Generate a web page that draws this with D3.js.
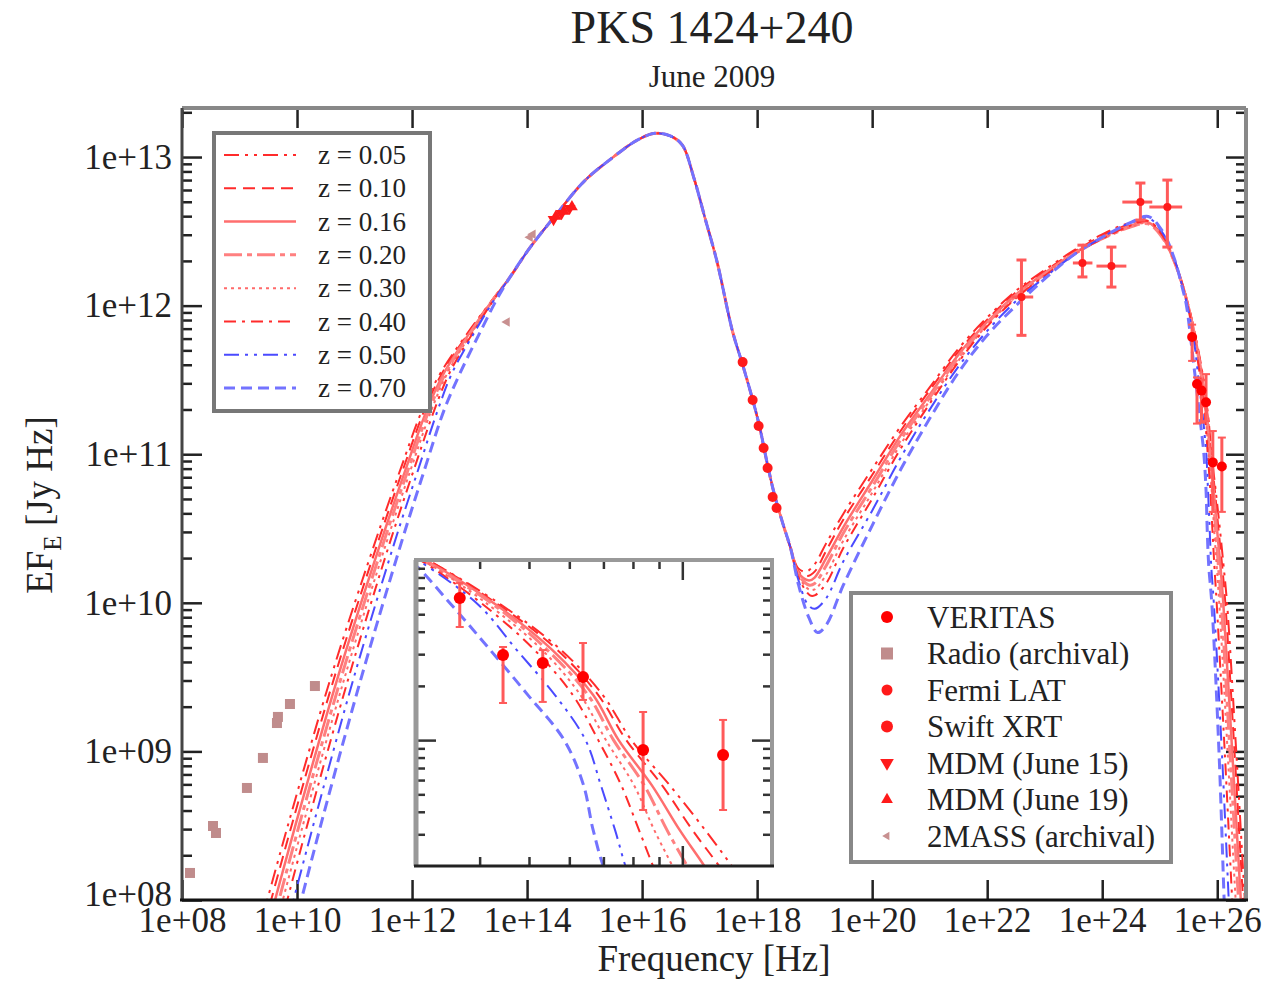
<!DOCTYPE html>
<html>
<head>
<meta charset="utf-8">
<script src="https://cdn.jsdelivr.net/npm/d3@7"></script>
<style>
body { margin: 0; background: #fff; }
svg text { font-family: "Liberation Serif", "Times New Roman", serif; fill: #222; }
</style>
</head>
<body>
<svg id="chart" width="1276" height="981"></svg>
<script>
// all values are log10(nu [Hz]) and log10(EF_E [Jy Hz])
const zLabels = ["z = 0.05", "z = 0.10", "z = 0.16", "z = 0.20", "z = 0.30", "z = 0.40", "z = 0.50", "z = 0.70"];

// low frequency synchrotron rise, one list per redshift
const syncRise = [
  [[9.20,7.6],[9.84,8.5],[10.59,9.5],[11.35,10.4],[11.80,10.9],[12.18,11.3],[12.50,11.55],[13.03,11.85],[13.40,12.04]],
  [[9.27,7.6],[9.905,8.5],[10.65,9.5],[11.40,10.4],[11.845,10.9],[12.22,11.3],[12.53,11.55],[13.045,11.85],[13.40,12.04]],
  [[9.34,7.6],[9.97,8.5],[10.71,9.5],[11.45,10.4],[11.89,10.9],[12.26,11.3],[12.56,11.55],[13.06,11.85],[13.41,12.04]],
  [[9.41,7.6],[10.035,8.5],[10.77,9.5],[11.50,10.4],[11.935,10.9],[12.30,11.3],[12.59,11.55],[13.075,11.85],[13.41,12.04]],
  [[9.48,7.6],[10.10,8.5],[10.83,9.5],[11.55,10.4],[11.98,10.9],[12.34,11.3],[12.62,11.55],[13.09,11.85],[13.42,12.04]],
  [[9.56,7.6],[10.175,8.5],[10.90,9.5],[11.61,10.4],[12.035,10.9],[12.39,11.3],[12.655,11.55],[13.11,11.85],[13.42,12.04]],
  [[9.67,7.6],[10.28,8.5],[10.99,9.5],[11.69,10.4],[12.11,10.9],[12.45,11.3],[12.70,11.55],[13.13,11.85],[13.43,12.04]],
  [[9.81,7.6],[10.41,8.5],[11.12,9.5],[11.81,10.4],[12.22,10.9],[12.56,11.3],[12.84,11.55],[13.22,11.85],[13.47,12.04]]
];

// synchrotron hump, the same for every redshift
const syncCommon = [[13.7,12.19],[14.05,12.39],[14.5,12.61],[15.0,12.84],[15.5,13.0],[15.9,13.11],[16.22,13.16],
  [16.5,13.14],[16.7,13.08],[16.9,12.86],[17.1,12.58],[17.3,12.30],[17.57,11.83],[17.75,11.60],[17.92,11.37],
  [18.04,11.19],[18.18,10.93],[18.3,10.73],[18.45,10.53],[18.58,10.37]];

// X-ray dip and inverse Compton hump
const icPart = [
  [[18.72,10.23],[18.85,10.21],[19.0,10.26],[19.2,10.40],[19.5,10.60],[20,10.90],[20.5,11.19],[21,11.45],[21.5,11.71],[22,11.92],[22.5,12.10],[23,12.24],[23.5,12.37],[24,12.48],[24.5,12.56],[24.8,12.57],[25.05,12.47],[25.25,12.31],[25.4,12.14]],
  [[18.72,10.21],[18.87,10.18],[19.0,10.21],[19.2,10.35],[19.5,10.56],[20,10.86],[20.5,11.16],[21,11.43],[21.5,11.69],[22,11.905],[22.5,12.09],[23,12.23],[23.5,12.36],[24,12.47],[24.5,12.55],[24.8,12.565],[25.05,12.465],[25.25,12.305],[25.4,12.135]],
  [[18.72,10.20],[18.9,10.15],[19.0,10.17],[19.2,10.30],[19.5,10.51],[20,10.82],[20.5,11.13],[21,11.40],[21.5,11.67],[22,11.89],[22.5,12.075],[23,12.22],[23.5,12.35],[24,12.46],[24.5,12.54],[24.8,12.56],[25.05,12.46],[25.25,12.30],[25.4,12.13]],
  [[18.72,10.19],[18.9,10.12],[19.0,10.13],[19.2,10.25],[19.5,10.47],[20,10.78],[20.5,11.10],[21,11.38],[21.5,11.65],[22,11.88],[22.5,12.065],[23,12.21],[23.5,12.345],[24,12.45],[24.5,12.53],[24.8,12.55],[25.05,12.455],[25.25,12.30],[25.4,12.13]],
  [[18.72,10.18],[18.9,10.09],[19.0,10.09],[19.2,10.19],[19.5,10.42],[20,10.74],[20.5,11.07],[21,11.36],[21.5,11.63],[22,11.87],[22.5,12.055],[23,12.205],[23.5,12.34],[24,12.45],[24.5,12.53],[24.8,12.555],[25.05,12.46],[25.25,12.30],[25.4,12.13]],
  [[18.72,10.17],[18.92,10.05],[19.0,10.05],[19.2,10.13],[19.5,10.37],[20,10.70],[20.5,11.04],[21,11.34],[21.5,11.62],[22,11.86],[22.5,12.05],[23,12.20],[23.5,12.34],[24,12.45],[24.5,12.54],[24.8,12.57],[25.05,12.47],[25.25,12.31],[25.4,12.13]],
  [[18.72,10.15],[18.88,9.99],[19.0,9.96],[19.2,10.03],[19.5,10.28],[20,10.62],[20.5,10.98],[21,11.30],[21.5,11.59],[22,11.83],[22.5,12.03],[23,12.19],[23.5,12.34],[24,12.46],[24.5,12.56],[24.8,12.59],[25.05,12.49],[25.25,12.32],[25.4,12.12]],
  [[18.72,10.12],[18.9,9.90],[19.05,9.80],[19.2,9.85],[19.5,10.12],[20,10.52],[20.5,10.90],[21,11.24],[21.5,11.55],[22,11.80],[22.5,12.00],[23,12.18],[23.5,12.34],[24,12.46],[24.5,12.56],[24.8,12.60],[25.05,12.50],[25.25,12.32],[25.4,12.11]]
];

// very high energy cutoff (EBL absorbed)
const vheTail = [
  [[25.50,12.0],[25.645,11.75],[25.762,11.5],[25.844,11.25],[25.90,11.0],[25.975,10.75],[26.045,10.5],[26.11,10.25],[26.17,10.0],[26.33,9.0],[26.48,8.0],[26.56,7.5]],
  [[25.50,12.0],[25.64,11.75],[25.755,11.5],[25.835,11.25],[25.89,11.0],[25.96,10.75],[26.02,10.5],[26.085,10.25],[26.14,10.0],[26.30,9.0],[26.45,8.0],[26.53,7.5]],
  [[25.495,12.0],[25.635,11.75],[25.745,11.5],[25.825,11.25],[25.875,11.0],[25.94,10.75],[25.995,10.5],[26.055,10.25],[26.105,10.0],[26.26,9.0],[26.41,8.0],[26.49,7.5]],
  [[25.49,12.0],[25.63,11.75],[25.735,11.5],[25.815,11.25],[25.865,11.0],[25.925,10.75],[25.97,10.5],[26.02,10.25],[26.07,10.0],[26.22,9.0],[26.37,8.0],[26.45,7.5]],
  [[25.49,12.0],[25.62,11.75],[25.725,11.5],[25.80,11.25],[25.85,11.0],[25.905,10.75],[25.945,10.5],[25.99,10.25],[26.035,10.0],[26.18,9.0],[26.32,8.0],[26.40,7.5]],
  [[25.485,12.0],[25.61,11.75],[25.71,11.5],[25.785,11.25],[25.835,11.0],[25.88,10.75],[25.915,10.5],[25.95,10.25],[25.99,10.0],[26.13,9.0],[26.26,8.0],[26.33,7.5]],
  [[25.48,12.0],[25.60,11.75],[25.675,11.5],[25.75,11.25],[25.81,11.0],[25.84,10.75],[25.868,10.5],[25.895,10.25],[25.94,10.0],[26.08,9.0],[26.20,8.0],[26.26,7.5]],
  [[25.465,12.0],[25.547,11.75],[25.623,11.5],[25.697,11.25],[25.768,11.0],[25.806,10.75],[25.825,10.5],[25.852,10.25],[25.905,10.0],[26.03,9.0],[26.12,8.0],[26.17,7.5]]
];

// data points
const veritas = [ // nu, EF, EF low, EF high
  [25.563,11.789,11.628,11.872],[25.648,11.473,11.206,11.517],[25.726,11.428,11.212,11.500],
  [25.805,11.350,11.223,11.539],[25.923,10.945,10.612,11.156],[26.080,10.917,10.612,11.112]
];
const fermi = [ // nu, EF, nu low, nu high, EF low, EF high
  [22.596,12.058,22.42,22.80,11.80,12.307],[23.656,12.287,23.49,23.83,12.193,12.407],
  [24.16,12.266,23.90,24.42,12.125,12.394],[24.664,12.697,24.35,24.87,12.576,12.825],
  [25.133,12.663,24.82,25.39,12.394,12.845]
];
const swift = [[17.748,11.62],[17.922,11.365],[18.026,11.19],[18.113,11.042],[18.182,10.907],[18.27,10.712],[18.338,10.638]];
const mdm15 = [[14.46,12.58],[14.6,12.62],[14.74,12.655]];
const mdm19 = [[14.5,12.6],[14.64,12.635],[14.78,12.665]];
const radio = [[8.139,8.182],[8.539,8.498],[8.591,8.451],[9.129,8.754],[9.407,8.956],[9.651,9.191],[9.668,9.232],[9.877,9.319],[10.311,9.44]];
const twoMass = [[13.65,11.89],[14.05,12.46],[14.10,12.48]];

const xTickExp = [8, 10, 12, 14, 16, 18, 20, 22, 24, 26];
const yTickExp = [8, 9, 10, 11, 12, 13];
const legendNames = ["VERITAS", "Radio (archival)", "Fermi LAT", "Swift XRT", "MDM (June 15)", "MDM (June 19)", "2MASS (archival)"];

// styles
const zColor = ["#ff2b2b", "#ff2b2b", "#ff6e6e", "#ff8080", "#ff6a6a", "#ff2b2b", "#4a4aff", "#7373ff"];
const zDash = ["15,6,3,6,3,6", "12,7", null, "18,5,5,5", "3,4", "12,6,3,6", "15,6,3,6,3,6", "11,6"];
const zWidth = [2, 2, 2.5, 3, 2, 2, 2, 3];
const red = "#ff1a1a", errRed = "#ff5a5a", brown = "#c08c8c";

const p10 = v => Math.pow(10, v);
const svg = d3.select("#chart");

const x = d3.scaleLog().domain([1e8, p10(26.5)]).range([182, 1246]);
const y = d3.scaleLog().domain([1e8, p10(13.33)]).range([900, 108]);

const fmt = d => "1e+" + String(Math.round(Math.log10(d))).padStart(2, "0");
const xMajor = xTickExp.map(p10);
const yMajor = yTickExp.map(p10);
const yMinor = [];
yTickExp.forEach(e => { for (let k = 2; k <= 9; k++) { if (k * p10(e) <= p10(13.33)) yMinor.push(k * p10(e)); } });

// title
svg.append("text").attr("x", 712).attr("y", 43).attr("text-anchor", "middle")
  .style("font-size", "46px").text("PKS 1424+240");
svg.append("text").attr("x", 712).attr("y", 87).attr("text-anchor", "middle")
  .style("font-size", "31px").attr("fill", "#333").text("June 2009");

// axes (ticks pointing inward)
function styleAxis(g) {
  g.select(".domain").remove();
  g.selectAll(".tick line").attr("stroke", "#222").attr("stroke-width", 2.5);
  g.selectAll(".tick text").style("font-size", "35px").attr("fill", "#2a2a2a");
}
svg.append("g").attr("transform", "translate(0,900)")
  .call(d3.axisBottom(x).tickValues(xMajor).tickSize(-20).tickPadding(7).tickFormat(fmt)).call(styleAxis);
svg.append("g").attr("transform", "translate(0,108)")
  .call(d3.axisTop(x).tickValues(xMajor).tickSize(-20).tickFormat("")).call(styleAxis);
const yAxisG = svg.append("g").attr("transform", "translate(182,0)")
  .call(d3.axisLeft(y).tickValues(yMajor).tickSize(-20).tickPadding(10).tickFormat(fmt)).call(styleAxis);
// lift the lowest label a little so it clears the x label below it
yAxisG.selectAll(".tick text").filter(d => d === 1e8).attr("dy", "0.16em");
svg.append("g").attr("transform", "translate(182,0)")
  .call(d3.axisLeft(y).tickValues(yMinor).tickSize(-10).tickFormat("")).call(styleAxis);
svg.append("g").attr("transform", "translate(1246,0)")
  .call(d3.axisRight(y).tickValues(yMajor).tickSize(-20).tickFormat("")).call(styleAxis);
svg.append("g").attr("transform", "translate(1246,0)")
  .call(d3.axisRight(y).tickValues(yMinor).tickSize(-10).tickFormat("")).call(styleAxis);

// axis titles
svg.append("text").attr("x", 714).attr("y", 971).attr("text-anchor", "middle")
  .style("font-size", "37px").attr("fill", "#333").text("Frequency [Hz]");
const yt = svg.append("text").attr("transform", "translate(52,505) rotate(-90)")
  .attr("text-anchor", "middle").style("font-size", "37px").attr("fill", "#333");
yt.append("tspan").text("EF");
yt.append("tspan").attr("dy", 9).style("font-size", "25px").text("E");
yt.append("tspan").attr("dy", -9).text(" [Jy Hz]");

// clip for the main plot and the inset
const defs = svg.append("defs");
defs.append("clipPath").attr("id", "mainClip").append("rect")
  .attr("x", 182).attr("y", 108).attr("width", 1064).attr("height", 792);
defs.append("clipPath").attr("id", "insetClip").append("rect")
  .attr("x", 416).attr("y", 560).attr("width", 356).attr("height", 306);

const curves = zLabels.map((z, i) => syncRise[i].concat(syncCommon, icPart[i], vheTail[i]));

function drawModel(g, sx, sy) {
  const line = d3.line().x(d => sx(p10(d[0]))).y(d => sy(p10(d[1])))
    .curve(d3.curveCatmullRom.alpha(0.5));
  g.selectAll("path.model").data(curves).enter().append("path")
    .attr("class", "model")
    .attr("d", line)
    .attr("fill", "none")
    .attr("stroke", (d, i) => zColor[i])
    .attr("stroke-width", (d, i) => zWidth[i])
    .attr("stroke-dasharray", (d, i) => zDash[i]);
}

function drawVeritas(g, sx, sy, r) {
  const gv = g.append("g");
  veritas.forEach(d => {
    const px = sx(p10(d[0]));
    gv.append("line").attr("x1", px).attr("x2", px)
      .attr("y1", sy(p10(d[2]))).attr("y2", sy(p10(d[3])))
      .attr("stroke", errRed).attr("stroke-width", 3);
    [d[2], d[3]].forEach(v => gv.append("line")
      .attr("x1", px - 4).attr("x2", px + 4).attr("y1", sy(p10(v))).attr("y2", sy(p10(v)))
      .attr("stroke", errRed).attr("stroke-width", 2));
  });
  gv.selectAll("circle").data(veritas).enter().append("circle")
    .attr("cx", d => sx(p10(d[0]))).attr("cy", d => sy(p10(d[1])))
    .attr("r", r).attr("fill", "#ff0000");
}

const plot = svg.append("g").attr("clip-path", "url(#mainClip)");
drawModel(plot, x, y);

// radio archival
plot.selectAll("rect.radio").data(radio).enter().append("rect")
  .attr("x", d => x(p10(d[0])) - 5).attr("y", d => y(p10(d[1])) - 5)
  .attr("width", 10).attr("height", 10).attr("fill", brown);
// 2MASS
plot.selectAll("path.mass").data(twoMass).enter().append("path")
  .attr("d", d3.symbol(d3.symbolTriangle, 40))
  .attr("transform", d => `translate(${x(p10(d[0]))},${y(p10(d[1]))}) rotate(-90)`)
  .attr("fill", "#c89090");
// MDM
plot.selectAll("path.m15").data(mdm15).enter().append("path")
  .attr("d", d3.symbol(d3.symbolTriangle, 60))
  .attr("transform", d => `translate(${x(p10(d[0]))},${y(p10(d[1]))}) rotate(180)`)
  .attr("fill", red);
plot.selectAll("path.m19").data(mdm19).enter().append("path")
  .attr("d", d3.symbol(d3.symbolTriangle, 60))
  .attr("transform", d => `translate(${x(p10(d[0]))},${y(p10(d[1]))})`)
  .attr("fill", red);
// Swift XRT
plot.selectAll("circle.swift").data(swift).enter().append("circle")
  .attr("cx", d => x(p10(d[0]))).attr("cy", d => y(p10(d[1])))
  .attr("r", 5).attr("fill", red);
// Fermi LAT
const gf = plot.append("g");
fermi.forEach(d => {
  const px = x(p10(d[0])), py = y(p10(d[1]));
  gf.append("line").attr("x1", px).attr("x2", px).attr("y1", y(p10(d[4]))).attr("y2", y(p10(d[5])))
    .attr("stroke", errRed).attr("stroke-width", 3);
  gf.append("line").attr("x1", x(p10(d[2]))).attr("x2", x(p10(d[3]))).attr("y1", py).attr("y2", py)
    .attr("stroke", errRed).attr("stroke-width", 3);
  [d[4], d[5]].forEach(v => gf.append("line").attr("x1", px - 5).attr("x2", px + 5)
    .attr("y1", y(p10(v))).attr("y2", y(p10(v))).attr("stroke", errRed).attr("stroke-width", 3));
  gf.append("circle").attr("cx", px).attr("cy", py).attr("r", 4).attr("fill", red);
});
drawVeritas(plot, x, y, 5);

// frame
svg.append("line").attr("x1", 182).attr("x2", 1246).attr("y1", 108).attr("y2", 108).attr("stroke", "#888").attr("stroke-width", 4);
svg.append("line").attr("x1", 1246).attr("x2", 1246).attr("y1", 108).attr("y2", 900).attr("stroke", "#888").attr("stroke-width", 4);
svg.append("line").attr("x1", 182).attr("x2", 182).attr("y1", 108).attr("y2", 900).attr("stroke", "#444").attr("stroke-width", 3);
svg.append("line").attr("x1", 180).attr("x2", 1248).attr("y1", 900).attr("y2", 900).attr("stroke", "#111").attr("stroke-width", 3);

// redshift legend
const leg1 = svg.append("g");
leg1.append("rect").attr("x", 214).attr("y", 133).attr("width", 216).attr("height", 278)
  .attr("fill", "#fff").attr("stroke", "#777").attr("stroke-width", 4);
const leg1Y = d3.scalePoint().domain(zLabels).range([155, 388]);
zLabels.forEach((z, i) => {
  leg1.append("line").attr("x1", 224).attr("x2", 296).attr("y1", leg1Y(z)).attr("y2", leg1Y(z))
    .attr("stroke", zColor[i]).attr("stroke-width", zWidth[i]).attr("stroke-dasharray", zDash[i]);
  leg1.append("text").attr("x", 318).attr("y", leg1Y(z)).attr("dy", "0.34em")
    .style("font-size", "27px").attr("fill", "#444").text(z);
});

// data legend
const leg2 = svg.append("g");
leg2.append("rect").attr("x", 851).attr("y", 593).attr("width", 320).attr("height", 269)
  .attr("fill", "#fff").attr("stroke", "#888").attr("stroke-width", 4);
const leg2Y = d3.scalePoint().domain(legendNames).range([617, 836]);
const mx = 887;
leg2.append("circle").attr("cx", mx).attr("cy", leg2Y(legendNames[0])).attr("r", 6).attr("fill", "#ff0000");
leg2.append("rect").attr("x", mx - 6).attr("y", leg2Y(legendNames[1]) - 6).attr("width", 12).attr("height", 12).attr("fill", brown);
leg2.append("circle").attr("cx", mx).attr("cy", leg2Y(legendNames[2])).attr("r", 5.5).attr("fill", red);
leg2.append("circle").attr("cx", mx).attr("cy", leg2Y(legendNames[3])).attr("r", 6).attr("fill", red);
leg2.append("path").attr("d", d3.symbol(d3.symbolTriangle, 80))
  .attr("transform", `translate(${mx},${leg2Y(legendNames[4])}) rotate(180)`).attr("fill", red);
leg2.append("path").attr("d", d3.symbol(d3.symbolTriangle, 60))
  .attr("transform", `translate(${mx},${leg2Y(legendNames[5])})`).attr("fill", red);
leg2.append("path").attr("d", d3.symbol(d3.symbolTriangle, 30))
  .attr("transform", `translate(${mx},${leg2Y(legendNames[6])}) rotate(-90)`).attr("fill", "#c89090");
legendNames.forEach(n => {
  leg2.append("text").attr("x", 927).attr("y", leg2Y(n)).attr("dy", "0.34em")
    .style("font-size", "31px").attr("fill", "#3a3a3a").text(n);
});

// inset: zoom on the VERITAS band
const xi = d3.scaleLog().domain([3e25, 1.5e26]).range([416, 772]);
const yi = d3.scaleLog().domain([2e10, 1e12]).range([866, 560]);
const inset = svg.append("g");
inset.append("rect").attr("x", 416).attr("y", 560).attr("width", 356).attr("height", 306).attr("fill", "#fff");
const insetPlot = inset.append("g").attr("clip-path", "url(#insetClip)");
drawModel(insetPlot, xi, yi);
drawVeritas(insetPlot, xi, yi, 6);

const xiMinor = [4e25, 5e25, 6e25, 7e25, 8e25, 9e25];
const yiMinor = [3e10, 4e10, 5e10, 6e10, 7e10, 8e10, 9e10, 2e11, 3e11, 4e11, 5e11, 6e11, 7e11, 8e11, 9e11];
function styleInset(g) {
  g.select(".domain").remove();
  g.selectAll(".tick line").attr("stroke", "#333").attr("stroke-width", 2.5);
}
inset.append("g").attr("transform", "translate(0,866)").call(d3.axisBottom(xi).tickValues(xiMinor).tickSize(-9).tickFormat("")).call(styleInset);
inset.append("g").attr("transform", "translate(0,866)").call(d3.axisBottom(xi).tickValues([1e26]).tickSize(-20).tickFormat("")).call(styleInset);
inset.append("g").attr("transform", "translate(0,560)").call(d3.axisTop(xi).tickValues(xiMinor).tickSize(-9).tickFormat("")).call(styleInset);
inset.append("g").attr("transform", "translate(0,560)").call(d3.axisTop(xi).tickValues([1e26]).tickSize(-20).tickFormat("")).call(styleInset);
inset.append("g").attr("transform", "translate(416,0)").call(d3.axisLeft(yi).tickValues(yiMinor).tickSize(-9).tickFormat("")).call(styleInset);
inset.append("g").attr("transform", "translate(416,0)").call(d3.axisLeft(yi).tickValues([1e11]).tickSize(-20).tickFormat("")).call(styleInset);
inset.append("g").attr("transform", "translate(772,0)").call(d3.axisRight(yi).tickValues(yiMinor).tickSize(-9).tickFormat("")).call(styleInset);
inset.append("g").attr("transform", "translate(772,0)").call(d3.axisRight(yi).tickValues([1e11]).tickSize(-20).tickFormat("")).call(styleInset);

inset.append("line").attr("x1", 414).attr("x2", 774).attr("y1", 560).attr("y2", 560).attr("stroke", "#999").attr("stroke-width", 4);
inset.append("line").attr("x1", 416).attr("x2", 416).attr("y1", 560).attr("y2", 866).attr("stroke", "#999").attr("stroke-width", 5);
inset.append("line").attr("x1", 772).attr("x2", 772).attr("y1", 560).attr("y2", 866).attr("stroke", "#999").attr("stroke-width", 4);
inset.append("line").attr("x1", 414).attr("x2", 774).attr("y1", 866).attr("y2", 866).attr("stroke", "#222").attr("stroke-width", 3);
</script>
</body>
</html>
